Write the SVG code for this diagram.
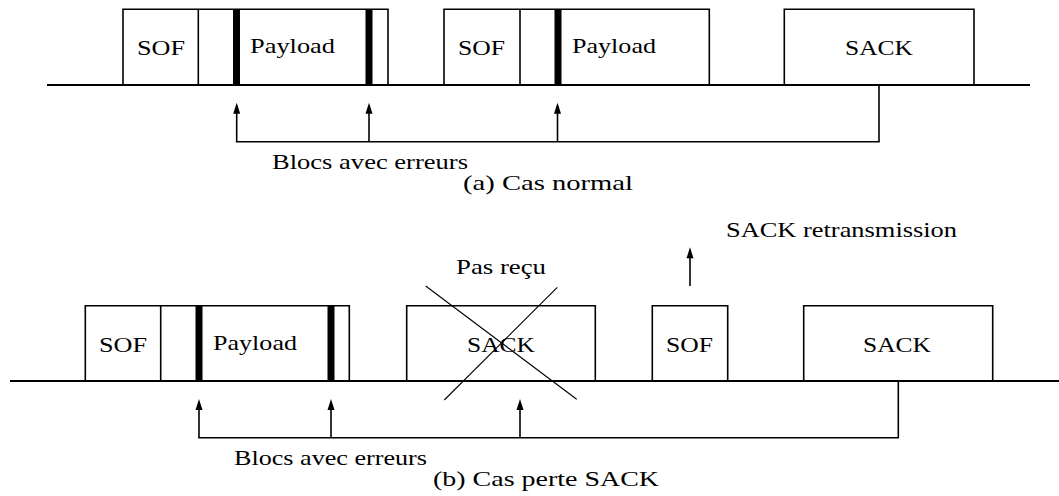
<svg xmlns="http://www.w3.org/2000/svg" width="1059" height="496" viewBox="0 0 1059 496">
<style>
  .frame { fill: none; stroke: #000; stroke-width: 1.6; stroke-linejoin: miter; }
  .base { fill: none; stroke: #000; stroke-width: 1.8; }
  .bar { fill: #000; stroke: none; }
  .conn { fill: none; stroke: #000; stroke-width: 1.6; stroke-linecap: square; }
  .arrow { fill: none; stroke: #000; stroke-width: 1.6; marker-end: url(#ah); }
  .cross { fill: none; stroke: #000; stroke-width: 1.1; }
  .t { font-family: 'Liberation Serif', 'Times New Roman', Tinos, 'DejaVu Serif', 'Noto Serif', serif; font-size: 22px; fill: #000; }
</style>
<defs>
  <marker id="ah" markerUnits="userSpaceOnUse" markerWidth="11" markerHeight="7" refX="8" refY="3.5" orient="auto" overflow="visible">
    <path d="M0,0 L11,3.5 L0,7 Z" fill="#000"/>
  </marker>
</defs>
<rect width="1059" height="496" fill="#fff"/>

<!-- (a) Cas normal -->
<g id="timeline-a">
  <path class="base" d="M47,85 H1030"/>
</g>
<g id="frame-a1" font-family="Liberation Serif, Times New Roman, DejaVu Serif, serif">
  <path class="frame" d="M123,85 V9.3 H388 V85"/>
  <path class="frame" d="M198.3,9.3 V85"/>
  <rect class="bar" x="233" y="9.3" width="7" height="75.7"/>
  <rect class="bar" x="365.5" y="9.3" width="7" height="75.7"/>
  <text class="t" x="137" y="55" textLength="48" lengthAdjust="spacingAndGlyphs">SOF</text>
  <text class="t" x="250" y="53.3" textLength="85" lengthAdjust="spacingAndGlyphs">Payload</text>
</g>
<g id="frame-a2" font-family="Liberation Serif, Times New Roman, DejaVu Serif, serif">
  <path class="frame" d="M444,85 V9.3 H709.3 V85"/>
  <path class="frame" d="M520,9.3 V85"/>
  <rect class="bar" x="554.5" y="9.3" width="7" height="75.7"/>
  <text class="t" x="458" y="55" textLength="47" lengthAdjust="spacingAndGlyphs">SOF</text>
  <text class="t" x="572" y="53.3" textLength="84" lengthAdjust="spacingAndGlyphs">Payload</text>
</g>
<g id="sack-a" font-family="Liberation Serif, Times New Roman, DejaVu Serif, serif">
  <path class="frame" d="M784.3,85 V9.3 H974 V85"/>
  <text class="t" x="845" y="55" textLength="68" lengthAdjust="spacingAndGlyphs">SACK</text>
</g>
<g id="connectors-a">
  <path class="conn" d="M236.7,141.7 H879 V85"/>
  <path class="arrow" d="M236.7,141.7 V105.7"/>
  <path class="arrow" d="M369,141.7 V105.7"/>
  <path class="arrow" d="M557.5,141.7 V105.7"/>
</g>
<g id="labels-a" font-family="Liberation Serif, Times New Roman, DejaVu Serif, serif">
  <text class="t" x="272" y="168.5" textLength="196" lengthAdjust="spacingAndGlyphs">Blocs avec erreurs</text>
  <text class="t" x="463" y="190" textLength="170" lengthAdjust="spacingAndGlyphs">(a) Cas normal</text>
</g>

<!-- (b) Cas perte SACK -->
<g id="timeline-b">
  <path class="base" d="M10,381 H1059"/>
</g>
<g id="frame-b1" font-family="Liberation Serif, Times New Roman, DejaVu Serif, serif">
  <path class="frame" d="M85.3,381 V305.7 H349.3 V381"/>
  <path class="frame" d="M160.7,305.7 V381"/>
  <rect class="bar" x="195.5" y="305.7" width="7" height="75.3"/>
  <rect class="bar" x="327.5" y="305.7" width="7" height="75.3"/>
  <text class="t" x="99" y="351.7" textLength="48" lengthAdjust="spacingAndGlyphs">SOF</text>
  <text class="t" x="213" y="349.5" textLength="84" lengthAdjust="spacingAndGlyphs">Payload</text>
</g>
<g id="sack-lost" font-family="Liberation Serif, Times New Roman, DejaVu Serif, serif">
  <path class="frame" d="M406.7,381 V305.7 H595.3 V381"/>
  <text class="t" x="467" y="351.7" textLength="68" lengthAdjust="spacingAndGlyphs">SACK</text>
  <path class="cross" d="M425.7,286 L576.7,399.3"/>
  <path class="cross" d="M557.3,287.3 L444.3,400"/>
  <text class="t" x="456" y="274" textLength="90" lengthAdjust="spacingAndGlyphs">Pas reçu</text>
</g>
<g id="sof-b" font-family="Liberation Serif, Times New Roman, DejaVu Serif, serif">
  <path class="frame" d="M652.3,381 V305.7 H727.7 V381"/>
  <text class="t" x="666" y="351.7" textLength="47" lengthAdjust="spacingAndGlyphs">SOF</text>
</g>
<g id="sack-b" font-family="Liberation Serif, Times New Roman, DejaVu Serif, serif">
  <path class="frame" d="M803.7,381 V305.7 H992.7 V381"/>
  <text class="t" x="863" y="351.7" textLength="68" lengthAdjust="spacingAndGlyphs">SACK</text>
</g>
<g id="connectors-b">
  <path class="conn" d="M199,437.7 H898.3 V381"/>
  <path class="arrow" d="M199,437.7 V402"/>
  <path class="arrow" d="M331,437.7 V402"/>
  <path class="arrow" d="M520,437.7 V402"/>
  <path class="arrow" d="M690,286 V250.3"/>
</g>
<g id="labels-b" font-family="Liberation Serif, Times New Roman, DejaVu Serif, serif">
  <text class="t" x="726" y="237.3" textLength="231" lengthAdjust="spacingAndGlyphs">SACK retransmission</text>
  <text class="t" x="234" y="465" textLength="193" lengthAdjust="spacingAndGlyphs">Blocs avec erreurs</text>
  <text class="t" x="433" y="486" textLength="226" lengthAdjust="spacingAndGlyphs">(b) Cas perte SACK</text>
</g>
</svg>
